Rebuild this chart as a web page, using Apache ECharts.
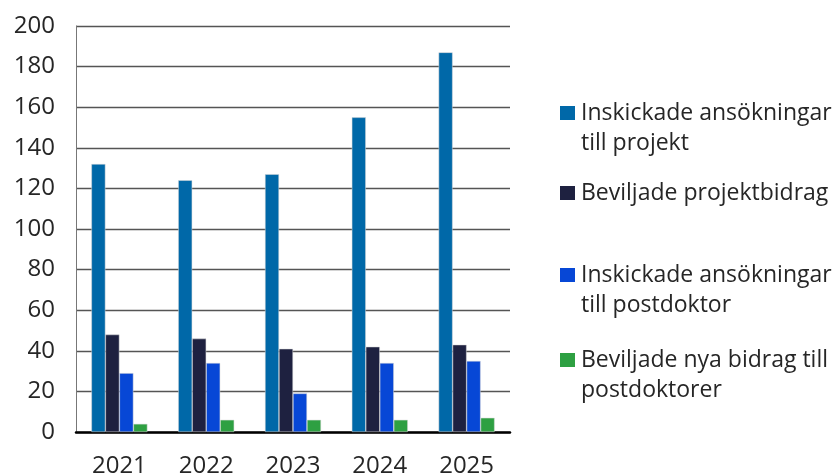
<!DOCTYPE html>
<html>
<head>
<meta charset="utf-8">
<script src="https://cdn.jsdelivr.net/npm/echarts@6/dist/echarts.min.js"></script>
<style>
html, body { margin: 0; padding: 0; background: #fff; }
#main { width: 837px; height: 475px; }
</style>
</head>
<body>
<div id="main"></div>
<script>
var years = ['2021', '2022', '2023', '2024', '2025'];
var names = ['Inskickade ansökningar till projekt', 'Beviljade projektbidrag',
	'Inskickade ansökningar till postdoktor', 'Beviljade nya bidrag till postdoktorer'];
var legendText = ['Inskickade ansökningar\ntill projekt', 'Beviljade projektbidrag\n ',
	'Inskickade ansökningar\ntill postdoktor', 'Beviljade nya bidrag till\npostdoktorer'];
var ansokProjekt = [132, 124, 127, 155, 187];
var bevProjekt = [48, 46, 41, 42, 43];
var ansokPostdok = [29, 34, 19, 34, 35];
var bevPostdok = [4, 6, 6, 6, 7];
var colors = ['#0068a8', '#1e2140', '#0747d6', '#2ea042'];

var font = 'Open Sans';
var myChart = echarts.init(document.getElementById('main'));

var allData = [ansokProjekt, bevProjekt, ansokPostdok, bevPostdok];
var legendTops = [98, 178, 260, 345];
// square sits at the top of a tall icon box, so it lines up with the first text line
var squareIcon = 'path://M0,0H15V14H0Z M0,44H0.01V44.01H0Z';
var legends = [];
var series = [];
for (var i = 0; i < 4; i++) {
	(function (i) {
		legends.push({
			data: [names[i]],
			left: 560,
			top: legendTops[i],
			padding: 0,
			itemWidth: 15,
			itemHeight: 44,
			itemGap: 0,
			icon: squareIcon,
			symbolKeepAspect: false,
			itemStyle: { borderWidth: 0 },
			formatter: function () { return legendText[i]; },
			textStyle: {
				fontFamily: font,
				fontSize: 23,
				color: '#262626',
				lineHeight: 30,
				padding: [0, 0, 0, 1]
			}
		});
		series.push({
			name: names[i],
			type: 'bar',
			data: allData[i],
			barWidth: 14,
			barGap: '0%',
			itemStyle: { color: colors[i], borderColor: '#d8d8d8', borderWidth: 0.5 },
			animation: false
		});
	})(i);
}

var option = {
	animation: false,
	grid: { left: 76, right: 327, top: 26, bottom: 43, containLabel: false, outerBoundsMode: 'none' },
	legend: legends,
	xAxis: {
		type: 'category',
		data: years,
		axisLine: { lineStyle: { color: '#000', width: 2.5 } },
		axisTick: { show: false },
		axisLabel: { fontFamily: font, fontSize: 24, color: '#262626', margin: 22 }
	},
	yAxis: {
		type: 'value',
		min: 0,
		max: 200,
		interval: 20,
		axisLine: { show: true, lineStyle: { color: '#777', width: 1 } },
		axisTick: { show: false },
		splitLine: { lineStyle: { color: '#555', width: 1.3 } },
		axisLabel: { fontFamily: font, fontSize: 24, color: '#262626', margin: 21 }
	},
	series: series
};
myChart.setOption(option);
</script>
</body>
</html>
